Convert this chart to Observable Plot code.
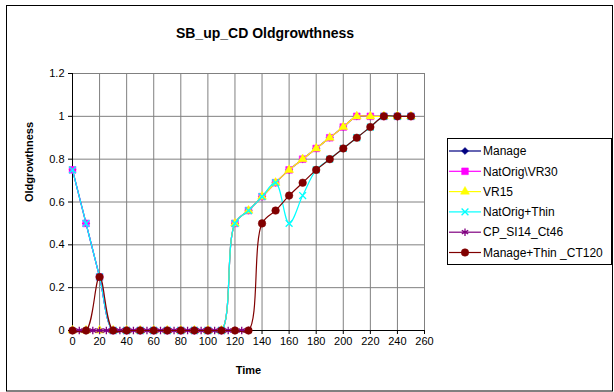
<!DOCTYPE html>
<html>
<head>
<meta charset="utf-8">
<script src="https://cdn.jsdelivr.net/npm/d3@7"></script>
<script src="https://cdn.jsdelivr.net/npm/@observablehq/plot@0.6"></script>
<style>
  html, body { margin: 0; padding: 0; background: #fff; }
  #chart svg { display: block; font-family: "Liberation Sans", Arial, sans-serif; }
</style>
</head>
<body>
<div id="chart"></div>
<script>
const times = [0,10,20,30,40,50,60,70,80,90,100,110,120,130,140,150,160,170,180,190,200,210,220,230,240,250];
const cpTimes = [0,5,10,15,20,25,30,35,40,45,50,55,60,65,70,75,80,85,90,95,100,105,110,115,120,125,130];

const manage      = [0.75,0.5,0.25,0,0,0,0,0,0,0,0,0,0.5,0.56,0.625,0.69,0.75,0.8,0.85,0.9,0.95,1,1,1,1,1];
const natOrigVR30 = [0.75,0.5,0.25,0,0,0,0,0,0,0,0,0,0.5,0.56,0.625,0.69,0.75,0.8,0.85,0.9,0.95,1,1,1,1,1];
const vr15        = [0,0,0,0,0,0,0,0,0,0,0,0,0.5,0.56,0.625,0.69,0.75,0.8,0.85,0.9,0.95,1,1,1,1,1];
const natOrigThin = [0.75,0.5,0.25,0,0,0,0,0,0,0,0,0,0.5,0.56,0.625,0.69,0.5,0.63,0.75,0.8,0.85,0.9,0.95,1,1,1];
const cpSI14      = [0,0,0,0,0,0,0,0,0,0,0,0,0,0,0,0,0,0,0,0,0,0,0,0,0,0,0];
const manageThin  = [0,0,0.25,0,0,0,0,0,0,0,0,0,0,0,0.5,0.56,0.63,0.69,0.75,0.8,0.85,0.9,0.95,1,1,1];

const seriesNames = ["Manage","NatOrig\\VR30","VR15","NatOrig+Thin","CP_SI14_Ct46","Manage+Thin _CT120"];
const xTicks = [0,20,40,60,80,100,120,140,160,180,200,220,240,260];
const yTicks = [0,0.2,0.4,0.6,0.8,1,1.2];

const styles = [
  {color:"#000080", symbol:"diamond2", fill:true,  r:3.2},
  {color:"#FF00FF", symbol:"square",   fill:true,  r:3.8},
  {color:"#FFFF00", symbol:"triangle", fill:true,  r:3.3},
  {color:"#00FFFF", symbol:"times",    fill:false, r:3.2},
  {color:"#800080", symbol:"asterisk", fill:false, r:3.5},
  {color:"#800000", symbol:"circle",   fill:true,  r:3.8}
];
const seriesX = [times, times, times, times, cpTimes, times];
const seriesY = [manage, natOrigVR30, vr15, natOrigThin, cpSI14, manageThin];

const marks = [
  Plot.gridX(xTicks, {stroke:"#808080", strokeOpacity:1}),
  Plot.gridY(yTicks, {stroke:"#808080", strokeOpacity:1}),
  Plot.frame({stroke:"#808080"}),
  Plot.ruleX([0], {stroke:"#000"}),
  Plot.ruleY([0], {stroke:"#000"}),
  Plot.axisX(xTicks, {tickSize:4, tickPadding:3, fontSize:11, label:null, color:"#000"}),
  Plot.axisY(yTicks, {tickSize:4, tickPadding:4, fontSize:11, label:null, color:"#000", tickFormat: d => String(d)})
];
seriesNames.forEach((name, i) => {
  const data = seriesX[i].map((t, j) => ({t, v: seriesY[i][j]}));
  const s = styles[i];
  marks.push(Plot.line(data, {x:"t", y:"v", stroke:s.color, strokeWidth:1.2, curve:"catmull-rom"}));
  marks.push(Plot.dot(data, {x:"t", y:"v", symbol: s.symbol, r:s.r,
    fill: s.fill ? s.color : "none", stroke: s.color, strokeWidth: s.fill ? 0.5 : 1.3}));
});
marks.push(Plot.text(["Oldgrowthness"], {frameAnchor:"left", dx:-43, rotate:-90, fontWeight:"bold", fontSize:11, fill:"#000"}));
marks.push(Plot.text(["Time"], {frameAnchor:"bottom", dy:43, fontWeight:"bold", fontSize:11, fill:"#000"}));

const chart = Plot.plot({
  width: 614, height: 392,
  marginLeft: 72, marginRight: 190, marginTop: 73, marginBottom: 62,
  x: {domain:[0,260]},
  y: {domain:[0,1.2]},
  style: {fontFamily: "Liberation Sans, Arial, sans-serif", fontSize: "11px", color:"#000", background:"#fff"},
  marks
});
document.getElementById("chart").appendChild(chart);

const svg = d3.select(chart);
// outer border
svg.append("rect").attr("x",6.5).attr("y",5.5).attr("width",606).attr("height",385.5)
  .attr("fill","none").attr("stroke","#000").attr("stroke-width",1);
// title
svg.append("text").attr("x",265).attr("y",38).attr("text-anchor","middle")
  .attr("font-weight","bold").attr("font-size",14).attr("fill","#000")
  .text("SB_up_CD Oldgrowthness");
// legend
const lg = svg.append("g").attr("text-anchor","start");
lg.append("rect").attr("x",447.5).attr("y",138.5).attr("width",164).attr("height",126)
  .attr("fill","#fff").attr("stroke","#000");
const symMap = {diamond2:d3.symbolDiamond2, square:d3.symbolSquare, triangle:d3.symbolTriangle,
  times:d3.symbolTimes, asterisk:d3.symbolAsterisk, circle:d3.symbolCircle};
seriesNames.forEach((name, i) => {
  const y = 151 + i * 20.3;
  const s = styles[i];
  lg.append("line").attr("x1",449).attr("x2",481).attr("y1",y).attr("y2",y)
    .attr("stroke",s.color).attr("stroke-width",1.2);
  lg.append("path").attr("transform",`translate(465,${y})`)
    .attr("d", d3.symbol(symMap[s.symbol], Math.PI * s.r * s.r)())
    .attr("fill", s.fill ? s.color : "none").attr("stroke", s.color).attr("stroke-width", s.fill ? 0.5 : 1.3);
  lg.append("text").attr("x",483).attr("y",y).attr("dy","0.35em").attr("text-anchor","start")
    .attr("font-size",12).attr("fill","#000").text(name);
});
</script>
</body>
</html>
